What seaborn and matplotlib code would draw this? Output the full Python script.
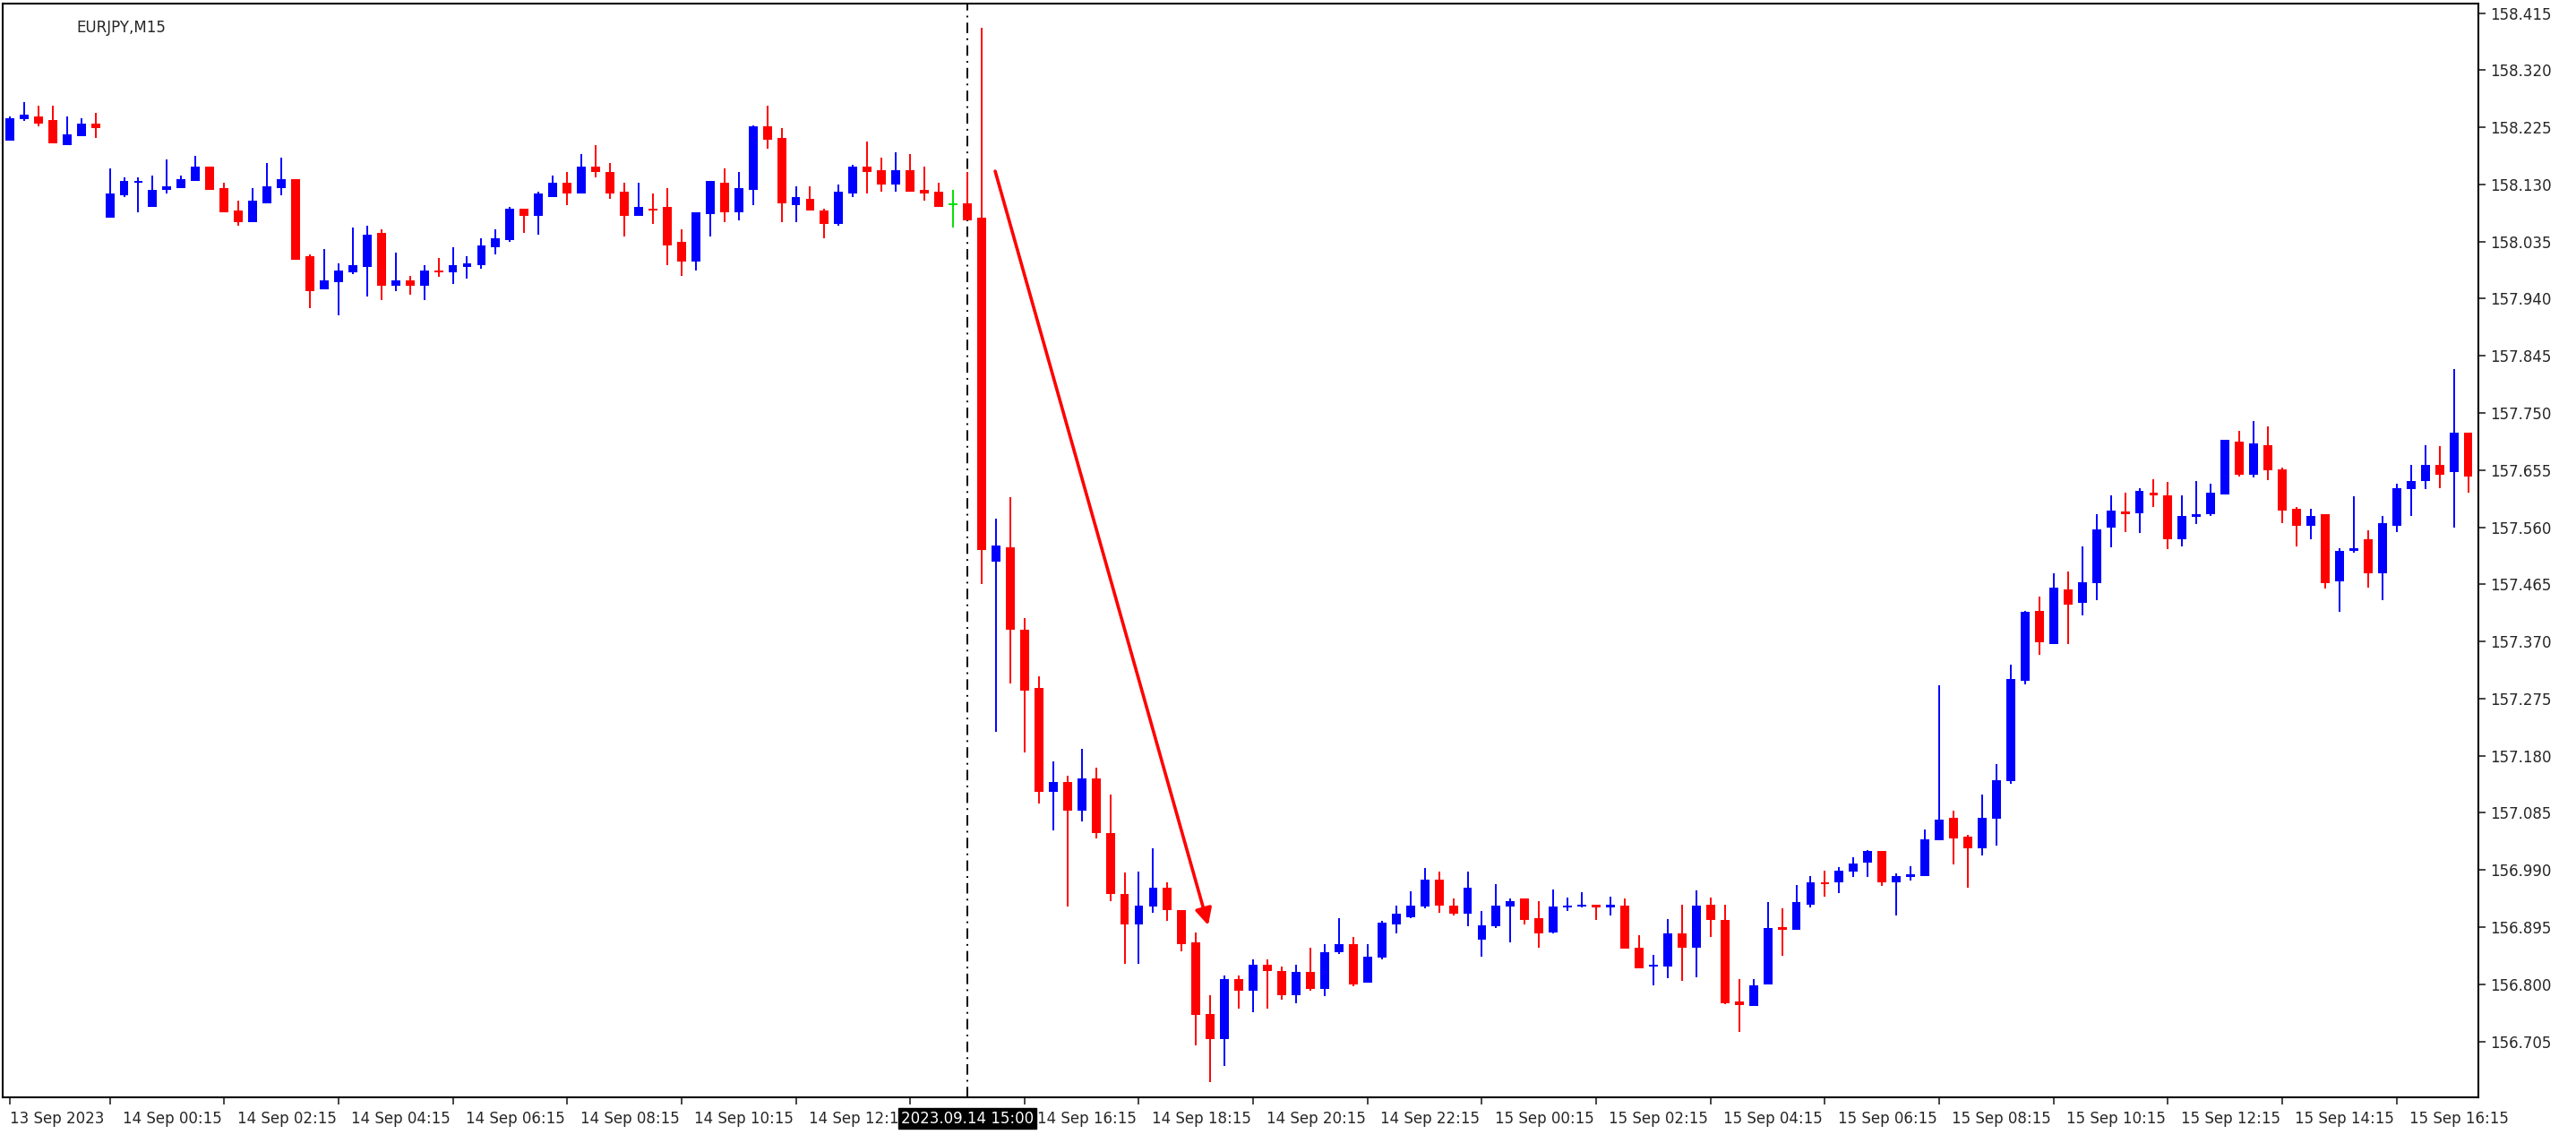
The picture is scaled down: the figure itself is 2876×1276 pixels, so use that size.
import numpy as np
import pandas as pd
import matplotlib
matplotlib.use('Agg')
import matplotlib.pyplot as plt
import seaborn as sns

# --- OHLC data (EURJPY M15) ---
opens = [158.203, 158.238, 158.243, 158.237, 158.196, 158.211, 158.231, 158.074, 158.112, 158.133,
         158.092, 158.121, 158.124, 158.136, 158.160, 158.124, 158.086, 158.068, 158.098, 158.124,
         158.139, 158.011, 157.955, 157.967, 157.984, 157.993, 158.050, 157.961, 157.970, 157.961,
         157.987, 157.984, 157.993, 157.996, 158.026, 158.038, 158.089, 158.077, 158.109, 158.133,
         158.115, 158.160, 158.151, 158.118, 158.077, 158.089, 158.092, 158.035, 158.002, 158.080,
         158.133, 158.083, 158.121, 158.226, 158.208, 158.095, 158.106, 158.086, 158.065, 158.115,
         158.160, 158.154, 158.130, 158.154, 158.121, 158.118, 158.096, 158.098, 158.075, 157.503,
         157.527, 157.390, 157.293, 157.120, 157.137, 157.089, 157.142, 157.052, 156.950, 156.900,
         156.929, 156.960, 156.924, 156.870, 156.751, 156.709, 156.808, 156.789, 156.832, 156.822,
         156.782, 156.820, 156.792, 156.853, 156.867, 156.803, 156.844, 156.900, 156.912, 156.929,
         156.974, 156.931, 156.917, 156.874, 156.896, 156.929, 156.943, 156.910, 156.886, 156.927,
         156.929, 156.932, 156.927, 156.931, 156.861, 156.829, 156.830, 156.885, 156.861, 156.932,
         156.907, 156.772, 156.764, 156.800, 156.895, 156.890, 156.932, 156.970, 156.970, 156.987,
         157.002, 157.021, 156.970, 156.978, 156.980, 157.040, 157.077, 157.045, 157.026, 157.075,
         157.138, 157.305, 157.421, 157.366, 157.457, 157.434, 157.467, 157.559, 157.586, 157.583,
         157.617, 157.613, 157.540, 157.577, 157.581, 157.615, 157.703, 157.647, 157.697, 157.656,
         157.591, 157.562, 157.581, 157.470, 157.521, 157.540, 157.484, 157.562, 157.623, 157.637,
         157.664, 157.651, 157.717]
highs = [158.243, 158.267, 158.261, 158.261, 158.243, 158.240, 158.249, 158.157, 158.142, 158.142,
         158.145, 158.172, 158.145, 158.178, 158.160, 158.133, 158.103, 158.124, 158.166, 158.175,
         158.139, 158.014, 158.023, 157.999, 158.059, 158.062, 158.056, 158.017, 157.978, 157.996,
         158.008, 158.026, 158.011, 158.041, 158.056, 158.092, 158.089, 158.118, 158.145, 158.151,
         158.181, 158.196, 158.166, 158.133, 158.133, 158.115, 158.124, 158.056, 158.083, 158.136,
         158.157, 158.151, 158.228, 158.261, 158.223, 158.127, 158.127, 158.089, 158.130, 158.163,
         158.202, 158.175, 158.184, 158.181, 158.160, 158.133, 158.121, 158.151, 158.390, 157.574,
         157.610, 157.409, 157.312, 157.170, 157.146, 157.191, 157.160, 157.116, 156.986, 156.988,
         157.026, 156.969, 156.924, 156.886, 156.782, 156.815, 156.815, 156.841, 156.841, 156.829,
         156.832, 156.860, 156.867, 156.910, 156.879, 156.867, 156.905, 156.931, 156.955, 156.993,
         156.988, 156.943, 156.988, 156.922, 156.967, 156.943, 156.943, 156.938, 156.957, 156.944,
         156.953, 156.932, 156.946, 156.943, 156.881, 156.849, 156.909, 156.932, 156.956, 156.944,
         156.932, 156.808, 156.808, 156.937, 156.926, 156.965, 156.980, 156.989, 156.995, 157.011,
         157.023, 157.021, 156.985, 156.997, 157.057, 157.297, 157.089, 157.048, 157.116, 157.166,
         157.332, 157.421, 157.445, 157.484, 157.487, 157.528, 157.581, 157.613, 157.617, 157.625,
         157.640, 157.635, 157.613, 157.637, 157.632, 157.705, 157.720, 157.736, 157.727, 157.659,
         157.593, 157.591, 157.581, 157.525, 157.611, 157.555, 157.579, 157.632, 157.663, 157.697,
         157.695, 157.823, 157.717]
lows = [158.203, 158.235, 158.226, 158.199, 158.196, 158.211, 158.208, 158.074, 158.109, 158.083,
        158.092, 158.115, 158.124, 158.136, 158.121, 158.083, 158.062, 158.068, 158.098, 158.112,
        158.005, 157.925, 157.955, 157.913, 157.981, 157.943, 157.937, 157.952, 157.946, 157.937,
        157.976, 157.964, 157.973, 157.990, 158.014, 158.035, 158.050, 158.047, 158.109, 158.095,
        158.115, 158.142, 158.106, 158.044, 158.077, 158.065, 157.996, 157.978, 157.987, 158.044,
        158.068, 158.071, 158.095, 158.190, 158.068, 158.068, 158.086, 158.041, 158.062, 158.109,
        158.115, 158.118, 158.118, 158.118, 158.103, 158.092, 158.059, 158.071, 157.465, 157.220,
        157.300, 157.186, 157.101, 157.056, 156.929, 157.071, 157.042, 156.938, 156.834, 156.834,
        156.919, 156.905, 156.855, 156.699, 156.638, 156.664, 156.759, 156.754, 156.759, 156.775,
        156.768, 156.789, 156.780, 156.851, 156.796, 156.803, 156.841, 156.884, 156.910, 156.926,
        156.919, 156.915, 156.896, 156.846, 156.893, 156.870, 156.900, 156.860, 156.884, 156.922,
        156.927, 156.907, 156.914, 156.859, 156.827, 156.798, 156.810, 156.806, 156.811, 156.878,
        156.767, 156.720, 156.764, 156.800, 156.847, 156.890, 156.927, 156.946, 156.951, 156.978,
        156.978, 156.963, 156.914, 156.972, 156.980, 157.040, 156.999, 156.960, 157.014, 157.031,
        157.133, 157.298, 157.348, 157.366, 157.366, 157.414, 157.438, 157.526, 157.552, 157.550,
        157.594, 157.523, 157.528, 157.565, 157.579, 157.615, 157.644, 157.642, 157.639, 157.567,
        157.528, 157.540, 157.458, 157.419, 157.518, 157.460, 157.438, 157.552, 157.579, 157.623,
        157.625, 157.559, 157.618]
closes = [158.240, 158.246, 158.231, 158.199, 158.214, 158.231, 158.223, 158.115, 158.136, 158.136,
          158.121, 158.127, 158.139, 158.160, 158.121, 158.083, 158.068, 158.103, 158.127, 158.139,
          158.005, 157.952, 157.970, 157.987, 157.996, 158.047, 157.961, 157.970, 157.961, 157.987,
          157.984, 157.996, 157.999, 158.029, 158.041, 158.089, 158.077, 158.115, 158.133, 158.115,
          158.160, 158.151, 158.115, 158.077, 158.092, 158.086, 158.029, 158.002, 158.083, 158.136,
          158.083, 158.124, 158.226, 158.205, 158.098, 158.109, 158.086, 158.065, 158.118, 158.160,
          158.151, 158.130, 158.154, 158.118, 158.115, 158.092, 158.096, 158.071, 157.522, 157.529,
          157.390, 157.288, 157.120, 157.137, 157.089, 157.142, 157.052, 156.950, 156.900, 156.931,
          156.960, 156.924, 156.867, 156.749, 156.709, 156.808, 156.789, 156.832, 156.822, 156.782,
          156.820, 156.792, 156.853, 156.867, 156.799, 156.846, 156.903, 156.917, 156.931, 156.974,
          156.931, 156.917, 156.960, 156.898, 156.931, 156.938, 156.907, 156.884, 156.929, 156.931,
          156.932, 156.927, 156.932, 156.859, 156.827, 156.832, 156.885, 156.861, 156.931, 156.907,
          156.769, 156.766, 156.798, 156.893, 156.890, 156.936, 156.970, 156.966, 156.989, 157.000,
          157.021, 156.970, 156.980, 156.983, 157.041, 157.074, 157.043, 157.026, 157.077, 157.140,
          157.308, 157.419, 157.368, 157.460, 157.431, 157.468, 157.557, 157.588, 157.581, 157.620,
          157.613, 157.540, 157.579, 157.581, 157.617, 157.705, 157.647, 157.700, 157.654, 157.588,
          157.562, 157.579, 157.467, 157.521, 157.525, 157.484, 157.567, 157.625, 157.637, 157.664,
          157.647, 157.717, 157.644]

price_ticks = [158.415, 158.320, 158.225, 158.130, 158.035, 157.940, 157.845, 157.750, 157.655,
               157.560, 157.465, 157.370, 157.275, 157.180, 157.085, 156.990, 156.895, 156.800, 156.705]
time_labels = ['14 Sep 00:15', '14 Sep 02:15', '14 Sep 04:15', '14 Sep 06:15', '14 Sep 08:15',
               '14 Sep 10:15', '14 Sep 12:15', '14 Sep 14:15', '14 Sep 16:15', '14 Sep 18:15',
               '14 Sep 20:15', '14 Sep 22:15', '15 Sep 00:15', '15 Sep 02:15', '15 Sep 04:15',
               '15 Sep 06:15', '15 Sep 08:15', '15 Sep 10:15', '15 Sep 12:15', '15 Sep 14:15',
               '15 Sep 16:15']
first_label = '13 Sep 2023'
event_label = '2023.09.14 15:00'
event_bar = 67
arrow_start = (68.9, 158.156)
arrow_end = (83.9, 156.894)

df = pd.DataFrame({'open': opens, 'high': highs, 'low': lows, 'close': closes})
df['idx'] = np.arange(len(df))
df['color'] = np.where(df['close'] > df['open'], '#0000FF',
                       np.where(df['close'] < df['open'], '#FF0000', '#00E000'))

sns.set_style('white')
plt.rcParams['font.family'] = ['DejaVu Sans']

fig = plt.figure(figsize=(28.76, 12.76), dpi=100)
ax = fig.add_axes([0.001, 0.040, 0.961, 0.957])

# wicks
ax.vlines(df['idx'], df['low'], df['high'], colors=df['color'], linewidth=1.4, zorder=2)
# bodies
body_low = df[['open', 'close']].min(axis=1)
body_h = (df['close'] - df['open']).abs().clip(lower=0.0025)
ax.bar(df['idx'], body_h, bottom=body_low, width=0.62, color=df['color'], linewidth=0, zorder=3)

ax.set_xlim(-0.5, len(df) - 0.3)
ax.set_ylim(156.612, 158.431)

# event line
ax.axvline(event_bar, color='black', linestyle=(0, (6, 3, 1, 3)), linewidth=1.4, zorder=1)

# arrow
ax.annotate('', xy=arrow_end, xytext=arrow_start,
            arrowprops=dict(arrowstyle='-|>', color='#FF0000', lw=2.6, mutation_scale=28))

# right price axis
ax.yaxis.tick_right()
ax.set_yticks(price_ticks)
ax.set_yticklabels([f'{p:.3f}' for p in price_ticks], fontsize=12)
ax.tick_params(axis='y', direction='out', length=6, width=1.2, pad=4, right=True)

# time axis
tick_pos = [7 + 8 * j for j in range(len(time_labels))]
ax.set_xticks([0] + tick_pos)
ax.set_xticklabels([])
ax.tick_params(axis='x', direction='out', length=6, width=1.2, bottom=True)
trans = ax.get_xaxis_transform()
ax.text(0, -0.012, first_label, transform=trans, ha='left', va='top', fontsize=12)
for pos, lab in zip(tick_pos, time_labels):
    if lab == '14 Sep 14:15':
        continue
    ax.text(pos + 0.9, -0.012, lab, transform=trans, ha='left', va='top', fontsize=12,
            clip_on=False)
ax.text(event_bar, -0.012, event_label, transform=trans, ha='center', va='top', fontsize=12,
        color='white', bbox=dict(boxstyle='square,pad=0.15', fc='black', ec='black'), zorder=5)

for s in ax.spines.values():
    s.set_color('black')
    s.set_linewidth(1.5)
ax.grid(False)

# title
ax.text(0.030, 0.985, 'EURJPY,M15', transform=ax.transAxes, ha='left', va='top', fontsize=12)

fig.savefig('out.png', dpi=100, facecolor='white')
